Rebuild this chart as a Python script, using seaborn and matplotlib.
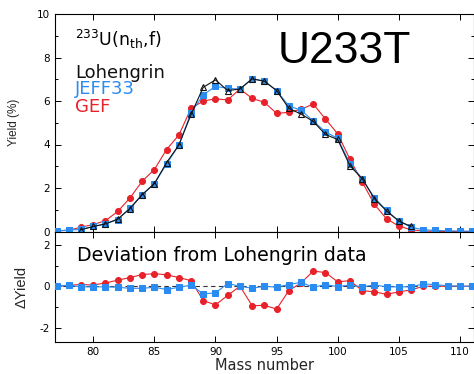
import numpy as np
import pandas as pd
import matplotlib
matplotlib.use("Agg")
import matplotlib.pyplot as plt
import seaborn as sns
from matplotlib.ticker import MultipleLocator

# ---------------- data ----------------
mass_jeff = list(range(77, 112))
jeff33 = [0.03, 0.06, 0.10, 0.23, 0.35, 0.55, 1.08, 1.70, 2.20, 3.10, 3.97, 5.46, 6.28, 6.68, 6.58,
          6.55, 7.02, 6.91, 6.48, 5.77, 5.58, 5.08, 4.58, 4.28, 3.12, 2.43, 1.55, 0.97, 0.48, 0.20,
          0.08, 0.05, 0.03, 0.02, 0.01]

mass_loh = list(range(79, 107))
lohengrin = [0.08, 0.23, 0.35, 0.57, 1.05, 1.69, 2.20, 3.17, 3.97, 5.38, 6.63, 6.97, 6.48,
             6.55, 7.02, 6.91, 6.48, 5.66, 5.40, 5.06, 4.46, 4.23, 3.02, 2.43, 1.51, 0.94, 0.48, 0.23]

mass_gef = list(range(77, 112))
gef = [0.03, 0.06, 0.20, 0.32, 0.50, 0.92, 1.54, 2.31, 2.85, 3.77, 4.43, 5.66, 6.00, 6.10, 6.05,
       6.55, 6.12, 5.94, 5.43, 5.48, 5.62, 5.86, 5.17, 4.49, 3.32, 2.28, 1.25, 0.58, 0.25, 0.08,
       0.02, 0.01, 0.0, 0.0, 0.0]

mass_dev = list(range(77, 112))
dev_jeff = [0.0, 0.05, -0.03, -0.03, -0.03, -0.05, -0.10, -0.10, -0.05, -0.16, -0.05, 0.05, -0.37, -0.32, 0.13,
            0.0, -0.10, 0.0, -0.05, 0.08, 0.19, -0.05, 0.08, -0.02, 0.06, -0.03, 0.06, -0.03, -0.03, -0.03,
            0.11, 0.08, 0.02, 0.0, 0.0]
dev_gef = [0.0, 0.05, 0.08, 0.06, 0.16, 0.29, 0.42, 0.56, 0.61, 0.55, 0.42, 0.27, -0.69, -0.90, -0.44,
           0.0, -0.94, -0.92, -1.10, -0.21, 0.16, 0.73, 0.66, 0.21, 0.27, -0.21, -0.27, -0.39, -0.27, -0.18,
           0.0, 0.0, 0.0, 0.0, 0.0]

x_ticks = [80, 85, 90, 95, 100, 105, 110]
legend_labels = ["Lohengrin", "JEFF33", "GEF"]

# ---------------- style ----------------
sns.set_theme(style="ticks")
plt.rcParams["font.family"] = ["DejaVu Sans"]

BLUE = "#2a8cf0"
RED = "#e8222a"
BLACK = "#111111"

W, H = 474, 374
fig = plt.figure(figsize=(W / 100, H / 100), dpi=100)
fig.patch.set_facecolor("white")

left = 55 / W
width = (474 - 55) / W
ax1 = fig.add_axes([left, 1 - 231.5 / H, width, (231.5 - 14) / H])
ax2 = fig.add_axes([left, 1 - 342 / H, width, (342 - 231.5) / H])

df_gef = pd.DataFrame({"A": mass_gef, "Y": gef})
df_jeff = pd.DataFrame({"A": mass_jeff, "Y": jeff33})
df_loh = pd.DataFrame({"A": mass_loh, "Y": lohengrin})

common = dict(estimator=None, sort=False, legend=False)

# top panel
sns.lineplot(data=df_gef, x="A", y="Y", ax=ax1, color=RED, marker="o", markersize=4.3,
             markeredgecolor=RED, linewidth=0.8, zorder=2, **common)
sns.lineplot(data=df_jeff, x="A", y="Y", ax=ax1, color=BLUE, marker="s", markersize=3.8,
             markeredgecolor=BLUE, linewidth=0.8, zorder=3, **common)
sns.lineplot(data=df_loh, x="A", y="Y", ax=ax1, color=BLACK, marker="^", markersize=5,
             markerfacecolor="none", markeredgecolor=BLACK, markeredgewidth=0.8,
             linewidth=0.8, zorder=4, **common)

# bottom panel
ax2.axhline(0, color="#333333", linestyle=(0, (4, 3)), linewidth=0.8, zorder=1)
df_dg = pd.DataFrame({"A": mass_dev, "D": dev_gef})
df_dj = pd.DataFrame({"A": mass_dev, "D": dev_jeff})
sns.lineplot(data=df_dg, x="A", y="D", ax=ax2, color=RED, marker="o", markersize=4.3,
             markeredgecolor=RED, linewidth=0.8, zorder=2, **common)
sns.lineplot(data=df_dj, x="A", y="D", ax=ax2, color=BLUE, marker="s", markersize=3.8,
             markeredgecolor=BLUE, linewidth=0.8, zorder=3, **common)

xlim = (76.87, 111.15)
for ax in (ax1, ax2):
    ax.set_xlim(*xlim)
    ax.set_xticks(x_ticks)
    ax.tick_params(axis="both", which="both", direction="in", top=True, right=True,
                   labelsize=7.5, colors="black", width=0.7)
    ax.tick_params(which="major", length=4)
    ax.tick_params(which="minor", length=2.5)
    ax.yaxis.set_minor_locator(MultipleLocator(1))
    for s in ax.spines.values():
        s.set_color("black")
        s.set_linewidth(0.8)
    ax.set_facecolor("white")
    ax.grid(False)

ax1.set_ylim(0, 10)
ax1.set_yticks([0, 2, 4, 6, 8, 10])
ax1.tick_params(axis="x", labelbottom=False)
ax1.set_xlabel("")
ax1.set_ylabel("Yield (%)", fontsize=8.5, family=["Liberation Sans"], labelpad=12)

ax2.set_ylim(-2.69, 2.64)
ax2.set_yticks([-2, 0, 2])
ax2.set_yticklabels(["-2", "0", "2"])
ax2.set_xlabel("Mass number", fontsize=10.5, labelpad=1)
ax2.set_ylabel("ΔYield", fontsize=10.5, family=["Liberation Sans"], labelpad=8)


def px(x, y):
    return x / W, 1 - y / H

fig.text(*px(75, 46), r"$^{233}$U(n$_{\mathrm{th}}$,f)", fontsize=12.5, color="black",
         ha="left", va="baseline")
for lab, col, yb in zip(legend_labels, [BLACK, BLUE, RED], [77.7, 94.3, 111.7]):
    fig.text(*px(75, yb), lab, fontsize=13, color=col, ha="left", va="baseline")
fig.text(*px(278, 63.3), "U233T", fontsize=32, family=["Liberation Sans"], color="black",
         ha="left", va="baseline")
fig.text(*px(77, 260.7), "Deviation from Lohengrin data", fontsize=13.6, color="black",
         ha="left", va="baseline")

fig.savefig("out.png", dpi=100, facecolor="white")
